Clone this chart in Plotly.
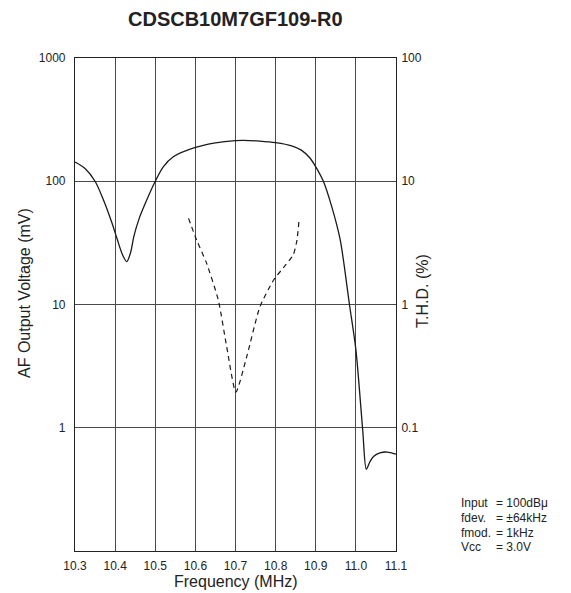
import plotly.graph_objects as go

# AF output voltage (mV), left axis
freq_af = [10.300, 10.325, 10.350, 10.371, 10.392, 10.405, 10.418, 10.429, 10.438, 10.447,
           10.460, 10.475, 10.500, 10.520, 10.545, 10.600, 10.650, 10.700, 10.720, 10.760,
           10.800, 10.840, 10.864, 10.885, 10.900, 10.919, 10.940, 10.961, 10.984, 11.000,
           11.017, 11.026, 11.035, 11.044, 11.060, 11.078, 11.100]
af_mv = [143, 127, 100, 70.5, 46, 34, 25.5, 22.3, 26, 36,
         50, 66, 100, 131, 158, 188, 205, 214, 215, 212,
         206, 194, 179, 155, 131, 100, 62, 33.4, 10, 4.3,
         0.96, 0.46, 0.53, 0.585, 0.625, 0.635, 0.61]

# T.H.D. (%), right axis
freq_thd = [10.583, 10.603, 10.628, 10.657, 10.678, 10.701, 10.728, 10.761, 10.795, 10.820,
            10.844, 10.853, 10.858]
thd_pct = [5.0, 3.34, 2.16, 1.09, 0.456, 0.195, 0.378, 0.96, 1.58, 2.0,
           2.53, 3.3, 4.7]

x_ticks = [10.3, 10.4, 10.5, 10.6, 10.7, 10.8, 10.9, 11.0, 11.1]
y_left_ticks = [1, 10, 100, 1000]
y_right_ticks = [0.1, 1, 10, 100]

title_text = "CDSCB10M7GF109-R0"
cond_names = ["Input", "fdev.", "fmod.", "Vcc"]
cond_values = ["= 100dBμ", "= ±64kHz", "= 1kHz", "= 3.0V"]

FONT = "Liberation Sans, Arial, Helvetica, sans-serif"
GRID = "#4a4a4a"

# page body has an 8px margin: figure is 8px smaller, plot area lands at (75,58)-(396,551)
W, H = 563, 585
L, T = 67, 50
PW, PH = 321, 493
OX, OY = 8, 8


def px(xp):
    return (xp - OX - L) / PW


def py(yp):
    return (T + PH - (yp - OY)) / PH


fig = go.Figure()
fig.add_trace(go.Scatter(x=freq_af, y=af_mv, mode="lines",
                         line=dict(color="#1a1a1a", width=1.3, shape="spline", smoothing=0.8),
                         yaxis="y", showlegend=False, hoverinfo="skip"))
fig.add_trace(go.Scatter(x=freq_thd, y=thd_pct, mode="lines",
                         line=dict(color="#1a1a1a", width=1.2, dash="5px,4px", shape="spline", smoothing=0.6),
                         yaxis="y2", showlegend=False, hoverinfo="skip"))

fig.update_layout(
    width=W, height=H,
    margin=dict(l=L, r=W - L - PW, t=T, b=H - T - PH),
    paper_bgcolor="white", plot_bgcolor="white",
    font=dict(family=FONT, size=12, color="#222"),
    xaxis=dict(range=[10.3, 11.1], tickvals=x_ticks, ticktext=[f"{v:.1f}" for v in x_ticks],
               showgrid=True, gridcolor=GRID, gridwidth=1, zeroline=False,
               showline=True, linecolor="#222", linewidth=1.2, mirror=True,
               ticks="outside", ticklen=3, tickcolor="rgba(0,0,0,0)",
               tickfont=dict(size=12)),
    yaxis=dict(type="log", range=[-1, 3], tickvals=y_left_ticks,
               ticktext=[str(v) for v in y_left_ticks],
               showgrid=True, gridcolor=GRID, gridwidth=1, zeroline=False,
               showline=True, linecolor="#222", linewidth=1.2, mirror=True,
               ticks="outside", ticklen=6, tickcolor="rgba(0,0,0,0)",
               tickfont=dict(size=12)),
    yaxis2=dict(type="log", range=[-2, 2], tickvals=y_right_ticks,
                ticktext=["0.1", "1", "10", "100"], overlaying="y", side="right",
                showgrid=False, zeroline=False, showline=False,
                ticks="outside", ticklen=2, tickcolor="rgba(0,0,0,0)",
                tickfont=dict(size=12)),
)

anns = [
    dict(text=f"<b>{title_text}</b>", x=px(236), y=py(19),
         xref="paper", yref="paper", xanchor="center", yanchor="middle",
         showarrow=False, font=dict(size=20, family=FONT, color="#222")),
    dict(text="Frequency (MHz)", x=px(235.5), y=py(581),
         xref="paper", yref="paper", xanchor="center", yanchor="middle",
         showarrow=False, font=dict(size=16, family=FONT, color="#222")),
    dict(text="AF Output Voltage (mV)", x=px(24), y=py(293),
         xref="paper", yref="paper", xanchor="center", yanchor="middle", textangle=-90,
         showarrow=False, font=dict(size=16, family=FONT, color="#222")),
    dict(text="T.H.D. (%)", x=px(422), y=py(291),
         xref="paper", yref="paper", xanchor="center", yanchor="middle", textangle=-90,
         showarrow=False, font=dict(size=16, family=FONT, color="#222")),
]
ys = [503, 518, 532.5, 547]
for name, val, yy in zip(cond_names, cond_values, ys):
    anns.append(dict(text=name, x=px(459), y=py(yy), xref="paper", yref="paper",
                     xanchor="left", yanchor="middle", showarrow=False,
                     font=dict(size=12, family=FONT, color="#222")))
    anns.append(dict(text=val, x=px(494), y=py(yy), xref="paper", yref="paper",
                     xanchor="left", yanchor="middle", showarrow=False,
                     font=dict(size=12, family=FONT, color="#222")))
fig.update_layout(annotations=anns)

fig.write_html("out.html")
